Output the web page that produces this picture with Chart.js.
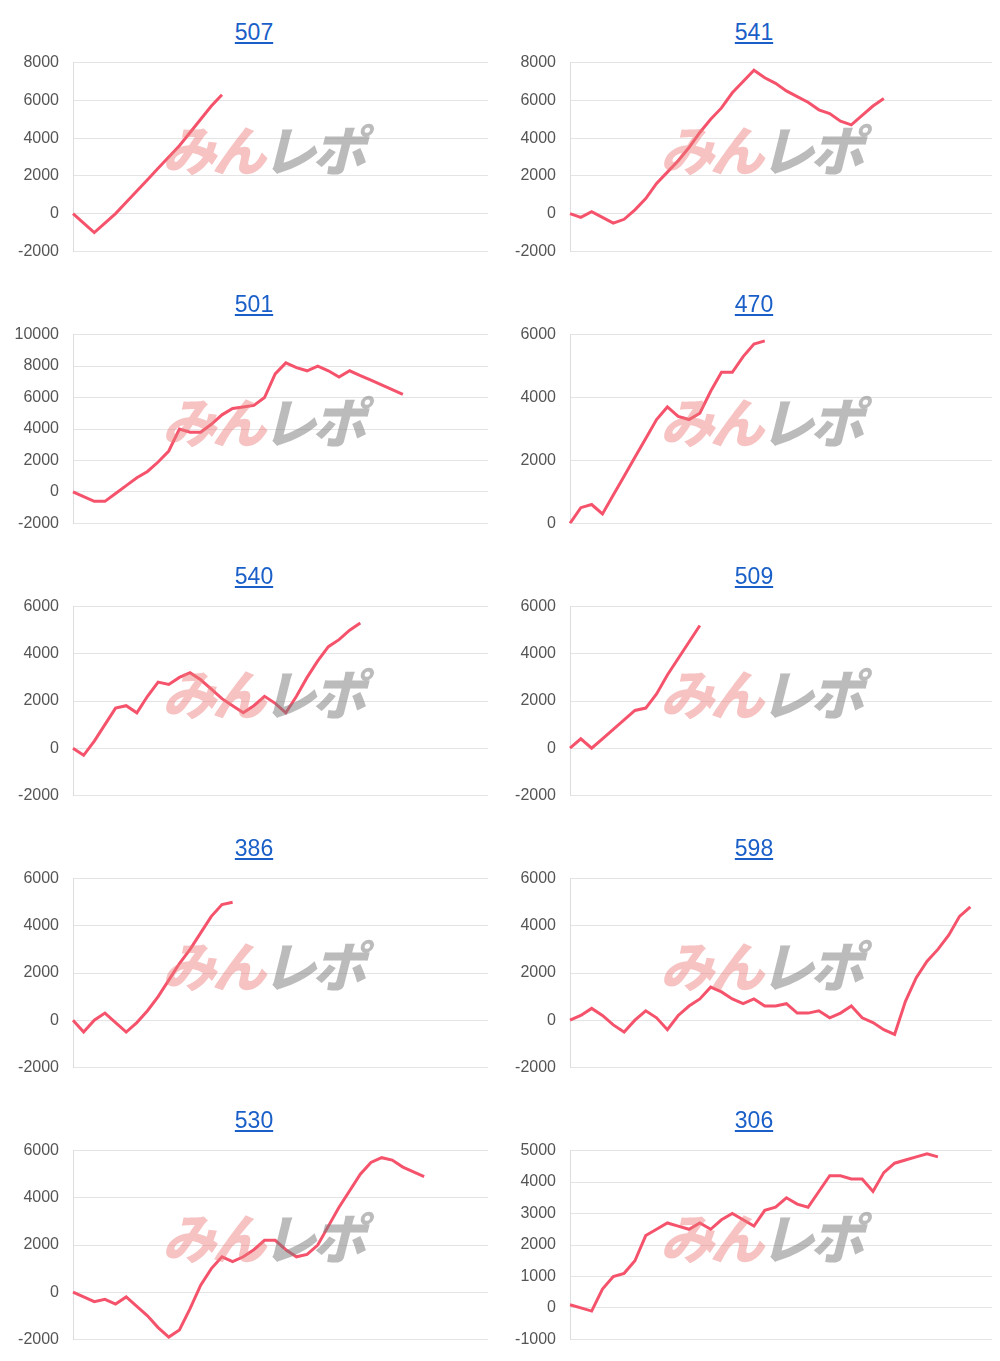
<!DOCTYPE html>
<html>
<head>
<meta charset="utf-8">
<script src="https://cdn.jsdelivr.net/npm/chart.js@4"></script>
<style>
  body { margin: 0; width: 1000px; height: 1361px; background: #fff; font-family: "Liberation Sans", Arial, sans-serif; overflow: hidden; }
  .grid { display: grid; grid-template-columns: 500px 500px; grid-auto-rows: 272px; }
  .cell { position: relative; }
  .cell a { position: absolute; top: 19px; left: 4px; width: 100%; text-align: center; font-size: 23px; color: #1a5fc8; text-decoration: underline; }
  .cell .wrap { position: absolute; top: 39px; left: 0; width: 500px; height: 236px; }
  .mark { position: absolute; top: 108px; font: italic 900 54px "Noto Sans CJK JP", sans-serif; letter-spacing: -4px; pointer-events: none; }
  .mark .p { color: rgba(235,120,120,0.45); }
  .mark .g { color: rgba(120,120,120,0.5); }
</style>
</head>
<body>
<div class="grid" id="grid"></div>
<script>
// 台番号
const titles = ['507', '541', '501', '470', '540', '509', '386', '598', '530', '306'];

// 差枚推移
const s507 = [0, -500, -1000, -500, 0, 600, 1200, 1800, 2400, 3000, 3600, 4300, 5000, 5700, 6300];
const s541 = [0, -200, 100, -200, -500, -300, 200, 800, 1600, 2200, 2800, 3500, 4300, 5000, 5600, 6400, 7000, 7600, 7200, 6900, 6500, 6200, 5900, 5500, 5300, 4900, 4700, 5200, 5700, 6100];
const s501 = [0, -300, -600, -600, -100, 400, 900, 1300, 1900, 2600, 4000, 3800, 3800, 4300, 4900, 5300, 5400, 5500, 6000, 7500, 8200, 7900, 7700, 8000, 7700, 7300, 7700, 7400, 7100, 6800, 6500, 6200];
const s470 = [0, 500, 600, 300, 900, 1500, 2100, 2700, 3300, 3700, 3400, 3300, 3500, 4200, 4800, 4800, 5300, 5700, 5800];
const s540 = [0, -300, 300, 1000, 1700, 1800, 1500, 2200, 2800, 2700, 3000, 3200, 2900, 2500, 2100, 1800, 1500, 1800, 2200, 1900, 1500, 2200, 3000, 3700, 4300, 4600, 5000, 5300];
const s509 = [0, 400, 0, 400, 800, 1200, 1600, 1700, 2300, 3100, 3800, 4500, 5200];
const s386 = [0, -500, 0, 300, -100, -500, -100, 400, 1000, 1700, 2400, 3000, 3700, 4400, 4900, 5000];
const s598 = [0, 200, 500, 200, -200, -500, 0, 400, 100, -400, 200, 600, 900, 1400, 1200, 900, 700, 900, 600, 600, 700, 300, 300, 400, 100, 300, 600, 100, -100, -400, -600, 800, 1800, 2500, 3000, 3600, 4400, 4800];
const s530 = [0, -200, -400, -300, -500, -200, -600, -1000, -1500, -1900, -1600, -700, 300, 1000, 1500, 1300, 1500, 1800, 2200, 2200, 1800, 1500, 1600, 2000, 2800, 3600, 4300, 5000, 5500, 5700, 5600, 5300, 5100, 4900];
const s306 = [100, 0, -100, 600, 1000, 1100, 1500, 2300, 2500, 2700, 2600, 2500, 2700, 2500, 2800, 3000, 2800, 2600, 3100, 3200, 3500, 3300, 3200, 3700, 4200, 4200, 4100, 4100, 3700, 4300, 4600, 4700, 4800, 4900, 4800];

// 縦軸 [min, max, step]
const yRanges = [[-2000, 8000, 2000], [-2000, 8000, 2000], [-2000, 10000, 2000], [0, 6000, 2000], [-2000, 6000, 2000],
                 [-2000, 6000, 2000], [-2000, 6000, 2000], [-2000, 6000, 2000], [-2000, 6000, 2000], [-1000, 5000, 1000]];

const series = [s507, s541, s501, s470, s540, s509, s386, s598, s530, s306];
const N = 40;
const labels = Array.from({ length: N }, (_, i) => i);

const grid = document.getElementById('grid');
series.forEach((data, k) => {
    const cell = document.createElement('div');
    cell.className = 'cell';
    const right = k % 2 === 1;
    cell.innerHTML = `<a href="#">${titles[k]}</a><div class="wrap"><canvas></canvas></div>` +
        `<div class="mark" style="left:${right ? 160 : 162}px"><span class="p">みん</span><span class="g">レポ</span></div>`;
    grid.appendChild(cell);

    const [mn, mx, st] = yRanges[k];
    new Chart(cell.querySelector('canvas'), {
        type: 'line',
        data: {
            labels: labels,
            datasets: [{ data: data, borderColor: '#f5536c', borderWidth: 3, pointRadius: 0, tension: 0 }]
        },
        options: {
            responsive: true,
            maintainAspectRatio: false,
            animation: false,
            layout: { padding: { right: right ? 8 : 12, top: 10, bottom: 10 } },
            plugins: { legend: { display: false }, tooltip: { enabled: false } },
            scales: {
                x: { display: false },
                y: {
                    min: mn, max: mx,
                    ticks: { stepSize: st, color: '#555', font: { size: 16 }, padding: 14, callback: v => String(v) },
                    grid: { color: '#e4e4e4', drawTicks: false },
                    border: { color: '#ddd' },
                    afterFit: s => { s.width = right ? 70 : 73; }
                }
            }
        }
    });
});
</script>
</body>
</html>
